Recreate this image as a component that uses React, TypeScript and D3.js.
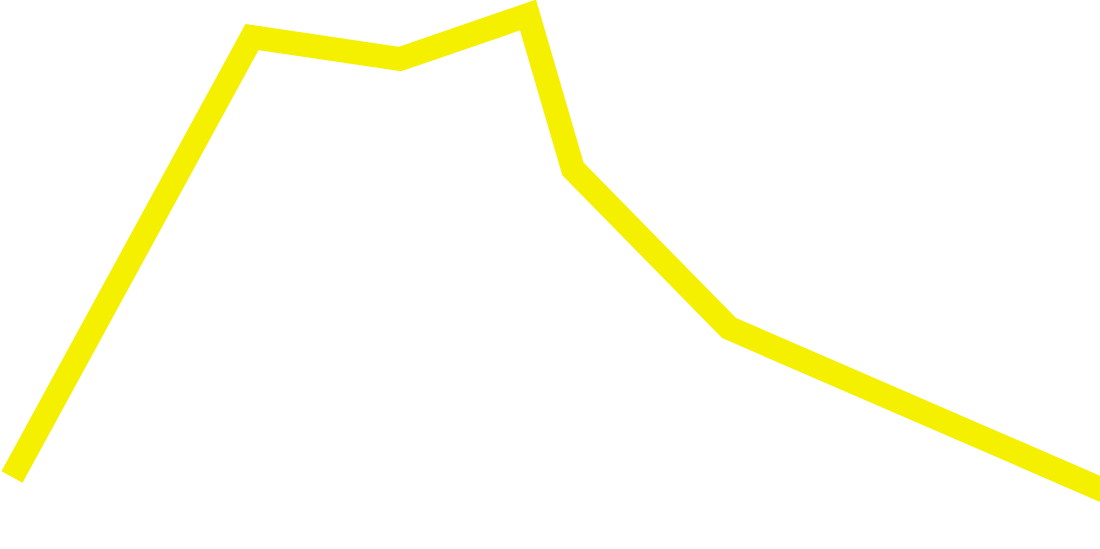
import React, { useRef, useEffect } from 'react';
import * as d3 from 'd3';

const WIDTH = 1100;
const HEIGHT = 549;

// x positions and values
const xValues: number[] = [12, 252, 400, 528, 573, 729, 1112];
const yValues: number[] = [72, 512, 490, 534, 380, 221, 55];

const App: React.FC = () => {
    const svgRef = useRef<SVGSVGElement | null>(null);

    useEffect(() => {
        const svg = d3.select(svgRef.current);
        svg.selectAll('*').remove();

        const xScale = d3.scaleLinear().domain([0, WIDTH]).range([0, WIDTH]);
        const yScale = d3.scaleLinear().domain([0, HEIGHT]).range([HEIGHT, 0]);

        const points: [number, number][] = xValues.map((x, i) => [x, yValues[i]]);

        const line = d3.line<[number, number]>()
            .x(d => xScale(d[0]))
            .y(d => yScale(d[1]));

        svg.append('path')
            .datum(points)
            .attr('d', line)
            .attr('fill', 'none')
            .attr('stroke', '#f5ef00')
            .attr('stroke-width', 24)
            .attr('stroke-linejoin', 'miter')
            .attr('stroke-linecap', 'butt');
    }, []);

    return (
        <svg
            ref={svgRef}
            width={WIDTH}
            height={HEIGHT}
            style={{ position: 'fixed', top: 0, left: 0, background: '#ffffff' }}
        ></svg>
    );
};

export default App;
